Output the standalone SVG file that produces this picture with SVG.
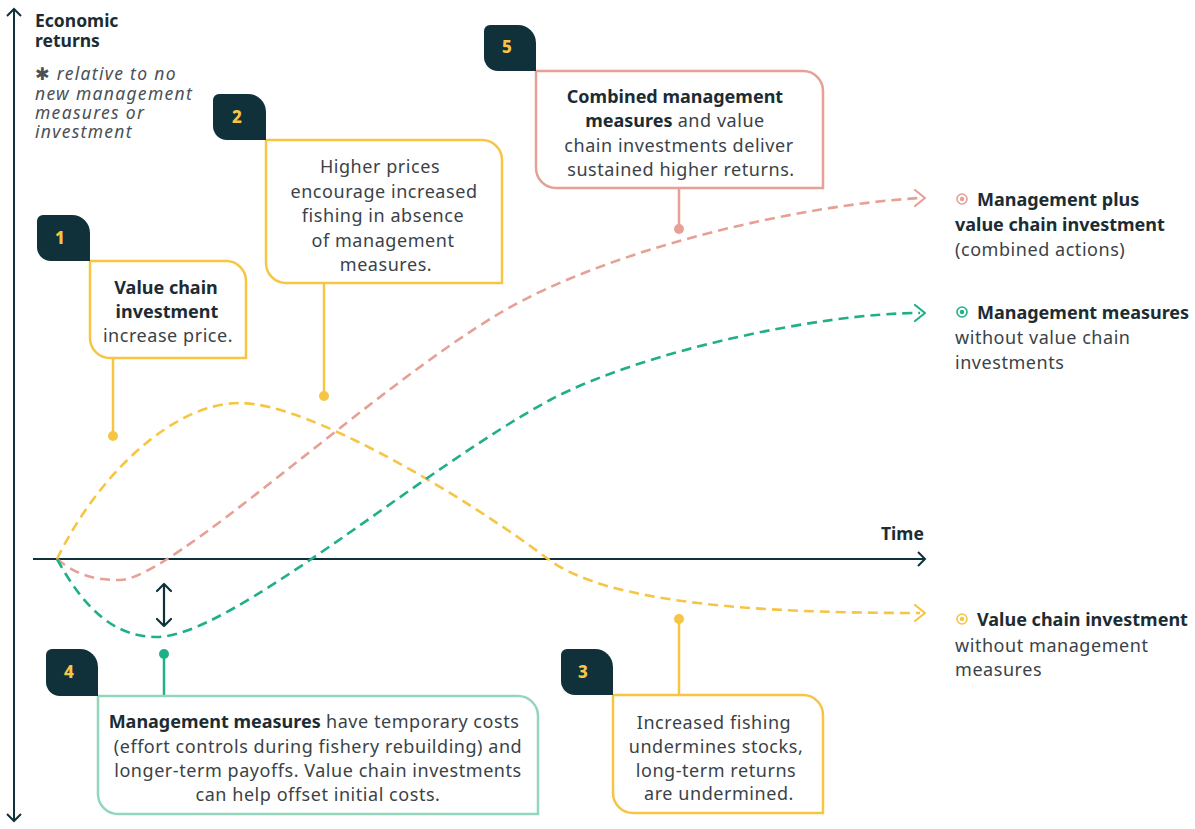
<svg xmlns="http://www.w3.org/2000/svg" width="1195" height="829" viewBox="0 0 1195 829">
<style>
text{font-family:"Noto Sans","Open Sans","DejaVu Sans",sans-serif;font-size:18px;fill:#3b4247;letter-spacing:0.55px}
.b{font-weight:700;fill:#1c2c33;letter-spacing:0}
.c{text-anchor:middle}
.num{font-weight:800;font-size:17px;fill:#f6c544;text-anchor:middle;letter-spacing:0}
.badge{fill:#11313a}
.box{fill:#fff;stroke-width:2.5}
.ax{fill:none;stroke:#11313a;stroke-width:2}
.crv{fill:none;stroke-width:2.6;stroke-dasharray:10 6}
.hd{fill:none;stroke-width:2.2;stroke-linecap:round;stroke-linejoin:round}
.y{stroke:#f6c544}.p{stroke:#e6a095}.g{stroke:#1fb08a}
.it{font-style:italic;font-size:17.5px;fill:#4a5055;letter-spacing:1.3px}
</style>
<rect width="1195" height="829" fill="#fff"/>
<g id="axes">
<line class="ax" x1="14" y1="9" x2="14" y2="821"/>
<path class="ax" d="M7,16 L14,9 L21,16 M7,814 L14,821 L21,814"/>
<line class="ax" x1="33" y1="559" x2="925" y2="559"/>
<path class="ax" d="M918,552 L925,559 L918,566"/>
<text class="b" x="881" y="540" style="font-size:17.5px">Time</text>
<text class="b" x="35" y="27" style="font-size:17.5px">Economic</text>
<text class="b" x="35" y="47" style="font-size:17.5px">returns</text>
<text class="it" x="35" y="80"><tspan style="font-style:normal;font-family:'DejaVu Sans',sans-serif">✱</tspan> relative to no</text>
<text class="it" x="35" y="100">new management</text>
<text class="it" x="35" y="119">measures or</text>
<text class="it" x="35" y="138">investment</text>
</g>
<g id="curves">
<path class="crv y" d="M57,559 C95,480 170,403 240,403 C310,403 470,500 548,559 C608,604 760,613 920,613"/>
<path class="hd y" d="M915,605 L925,613 L915,621"/>
<path class="crv p" d="M57,559 C80,578 100,580 120,580 C170,580 370,390 500,313 C610,248 800,205 920,198"/>
<path class="hd p" d="M915,190 L925,198 L915,206"/>
<path class="crv g" d="M57,559 C85,610 115,637 157,637 C230,637 420,470 550,400 C640,352 820,313 920,313"/>
<path class="hd g" d="M915,305 L925,313 L915,321"/>
<path class="hd" stroke="#11313a" stroke-width="1.8" d="M164,584 V626 M157,591 L164,584 L171,591 M157,619 L164,626 L171,619"/>
</g>
<g id="connectors">
<line x1="113" y1="358" x2="113" y2="436" stroke="#f6c544" stroke-width="2.5"/>
<circle cx="113" cy="436" r="5" fill="#f6c544"/>
<line x1="324" y1="283" x2="324" y2="396" stroke="#f6c544" stroke-width="2.5"/>
<circle cx="324" cy="396" r="5" fill="#f6c544"/>
<line x1="679" y1="188" x2="679" y2="229" stroke="#e6a095" stroke-width="2.5"/>
<circle cx="679" cy="229" r="5" fill="#e6a095"/>
<line x1="164" y1="654" x2="164" y2="696" stroke="#1fb08a" stroke-width="2.5"/>
<circle cx="164" cy="654" r="5" fill="#1fb08a"/>
<line x1="679" y1="619" x2="679" y2="695" stroke="#f6c544" stroke-width="2.5"/>
<circle cx="679" cy="619" r="5" fill="#f6c544"/>
</g>
<g id="node1">
<path class="box y" d="M90,261 H226 A20,20 0 0 1 246,281 V358 H110 A20,20 0 0 1 90,338 Z"/>
<path class="badge" d="M43,215 H72 A18,18 0 0 1 90,233 V261 H51 A14,14 0 0 1 37,247 V221 A6,6 0 0 1 43,215 Z"/>
<text class="num" x="60" y="244">1</text>
<text class="b c" x="166" y="294">Value chain</text>
<text class="b c" x="167" y="318">investment</text>
<text class="c" x="168" y="342">increase price.</text>
</g>
<g id="node2">
<path class="box y" d="M266,140 H482 A20,20 0 0 1 502,160 V283 H286 A20,20 0 0 1 266,263 Z"/>
<path class="badge" d="M219,94 H248 A18,18 0 0 1 266,112 V140 H227 A14,14 0 0 1 213,126 V100 A6,6 0 0 1 219,94 Z"/>
<text class="num" x="237" y="123">2</text>
<text class="c" x="380" y="173">Higher prices</text>
<text class="c" x="384" y="198">encourage increased</text>
<text class="c" x="383" y="222">fishing in absence</text>
<text class="c" x="383" y="247">of management</text>
<text class="c" x="386" y="271">measures.</text>
</g>
<g id="node5">
<path class="box p" d="M536,71 H803 A20,20 0 0 1 823,91 V188 H556 A20,20 0 0 1 536,168 Z"/>
<path class="badge" d="M490,25 H518 A18,18 0 0 1 536,43 V71 H498 A14,14 0 0 1 484,57 V31 A6,6 0 0 1 490,25 Z"/>
<text class="num" x="507" y="53">5</text>
<text class="b c" x="675" y="103">Combined management</text>
<text class="c" x="675" y="127"><tspan class="b">measures</tspan> and value</text>
<text class="c" x="679" y="152">chain investments deliver</text>
<text class="c" x="681" y="176">sustained higher returns.</text>
</g>
<g id="node4">
<path class="box" stroke="#93d6bd" d="M98,696 H518 A20,20 0 0 1 538,716 V814 H118 A20,20 0 0 1 98,794 Z"/>
<path class="badge" d="M52,649 H80 A18,18 0 0 1 98,667 V696 H60 A14,14 0 0 1 46,682 V655 A6,6 0 0 1 52,649 Z"/>
<text class="num" x="69" y="678">4</text>
<text class="c" x="314" y="728"><tspan class="b">Management measures</tspan> have temporary costs</text>
<text class="c" x="318" y="753">(effort controls during fishery rebuilding) and</text>
<text class="c" x="318" y="777">longer-term payoffs. Value chain investments</text>
<text class="c" x="318" y="801">can help offset initial costs.</text>
</g>
<g id="node3">
<path class="box y" d="M613,695 H803 A20,20 0 0 1 823,715 V813 H633 A20,20 0 0 1 613,793 Z"/>
<path class="badge" d="M567,649 H595 A18,18 0 0 1 613,667 V695 H575 A14,14 0 0 1 561,681 V655 A6,6 0 0 1 567,649 Z"/>
<text class="num" x="583" y="678">3</text>
<text class="c" x="714" y="729">Increased fishing</text>
<text class="c" x="716" y="753">undermines stocks,</text>
<text class="c" x="716" y="777">long-term returns</text>
<text class="c" x="719" y="800">are undermined.</text>
</g>
<g id="legend-combined">
<circle cx="962" cy="199" r="5" fill="none" stroke="#e6a095" stroke-width="1.6"/>
<circle cx="962" cy="199" r="2.2" fill="#e6a095"/>
<text class="b" x="977" y="206">Management plus</text>
<text class="b" x="955" y="231">value chain investment</text>
<text x="955" y="256">(combined actions)</text>
</g>
<g id="legend-management">
<circle cx="962" cy="312" r="5" fill="none" stroke="#1fb08a" stroke-width="1.6"/>
<circle cx="962" cy="312" r="2.2" fill="#1fb08a"/>
<text class="b" x="977" y="319">Management measures</text>
<text x="955" y="344">without value chain</text>
<text x="955" y="369">investments</text>
</g>
<g id="legend-value">
<circle cx="962" cy="619" r="5" fill="none" stroke="#f6c544" stroke-width="1.6"/>
<circle cx="962" cy="619" r="2.2" fill="#f6c544"/>
<text class="b" x="977" y="626">Value chain investment</text>
<text x="955" y="652">without management</text>
<text x="955" y="676">measures</text>
</g>
</svg>
